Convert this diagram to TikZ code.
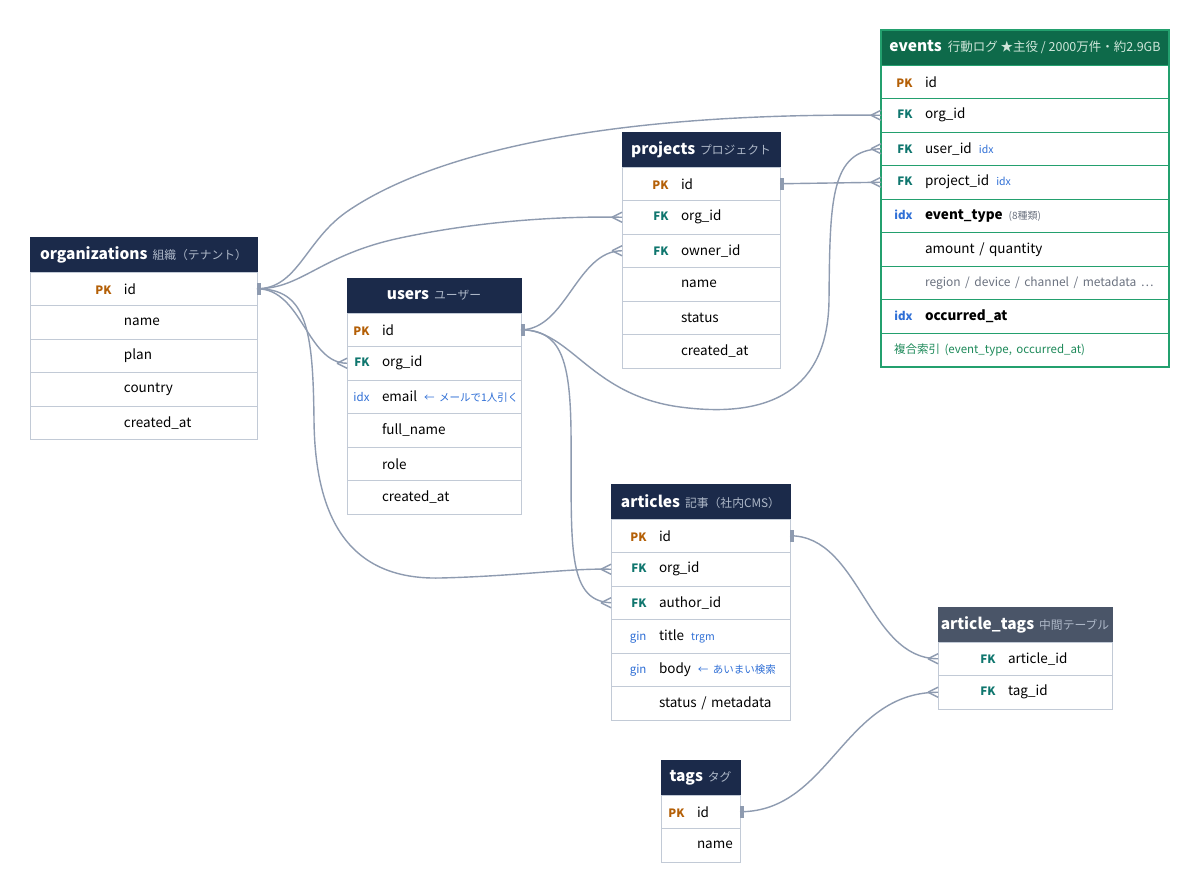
\documentclass[tikz,border=0pt]{standalone}
\usepackage{fontspec}
\setmainfont{Noto Sans CJK JP}
\usetikzlibrary{positioning}

\definecolor{navy}{HTML}{1B2A4A}
\definecolor{slate}{HTML}{4A5568}
\definecolor{evhead}{HTML}{0E6A4A}
\definecolor{evline}{HTML}{23A06E}
\definecolor{evsub}{HTML}{CFE6DA}
\definecolor{subc}{HTML}{AEB8C8}
\definecolor{rowline}{HTML}{C2CAD6}
\definecolor{relc}{HTML}{8E9BB0}
\definecolor{pkc}{HTML}{B45F06}
\definecolor{fkc}{HTML}{0F766E}
\definecolor{idxc}{HTML}{2F6FD6}
\definecolor{grayc}{HTML}{6B7280}
\definecolor{cmpc}{HTML}{1E8A5A}

\newlength{\keyw}
\newcommand{\krow}[2]{\noindent\mbox{\makebox[\keyw][r]{#1}\hspace{12.5pt}#2}}
\newcommand{\kf}[2]{\textcolor{#1}{\fontsize{11.5}{12}\selectfont\bfseries #2}}
\newcommand{\PK}{\kf{pkc}{PK}}
\newcommand{\FK}{\kf{fkc}{FK}}
\newcommand{\IDX}{\kf{idxc}{idx}}
\newcommand{\kidx}[1]{\textcolor{idxc}{\fontsize{11.5}{12}\selectfont #1}}
\newcommand{\note}[1]{\hspace{7pt}\textcolor{idxc}{\fontsize{10.5}{12}\selectfont #1}}
\newcommand{\ttl}[3][subc]{{\fontsize{15.5}{18}\selectfont\bfseries #2}\hspace{5pt}{\fontsize{11.8}{14}\selectfont\color{#1}#3}}
\newcommand{\crow}[1]{\draw[rel] ([xshift=-10pt]#1.west) -- ([yshift=5pt]#1.west) ([xshift=-10pt]#1.west) -- ([yshift=-5pt]#1.west);}
\newcommand{\one}[1]{\fill[relc] ([yshift=-6pt]#1.east) rectangle ([xshift=4pt,yshift=6pt]#1.east);}

\tikzset{
  keyw/.code={\setlength{\keyw}{#1}},
  head/.style={fill=navy, draw=navy, text=white, minimum width=#1, minimum height=35pt,
    inner sep=0pt, outer sep=0pt, anchor=north west},
  cell/.style={draw=rowline, fill=white, text width=#1, minimum height=33.5pt, align=left,
    inner sep=0pt, outer sep=0pt, font=\fontsize{13.5}{16}\selectfont},
  evcell/.style={cell=#1, draw=evline},
  rel/.style={draw=relc, line width=1.4pt},
}

\begin{document}
\begin{tikzpicture}[x=1pt, y=-1pt]
\useasboundingbox[fill=white] (0,0) rectangle (1200,894);

% events
\begin{scope}[keyw=31.5pt]
\node[head=288pt, fill=evhead, draw=evhead] (ev-h) at (881,30) {{\fontsize{15.5}{18}\selectfont\bfseries events}\hspace{6pt}{\fontsize{12.5}{14}\selectfont\color{evsub}行動ログ ★主役 / 2000万件・約2.9GB}};
\node[evcell=288pt, below=0pt of ev-h] (ev-id) {\krow{\PK}{id}};
\node[evcell=288pt, below=0pt of ev-id] (ev-org) {\krow{\FK}{org\_id}};
\node[evcell=288pt, below=0pt of ev-org] (ev-user) {\krow{\FK}{user\_id\note{idx}}};
\node[evcell=288pt, below=0pt of ev-user] (ev-proj) {\krow{\FK}{project\_id\note{idx}}};
\node[evcell=288pt, below=0pt of ev-proj] (ev-type) {\krow{\IDX}{\textbf{event\_type}\hspace{6pt}\textcolor{grayc}{\fontsize{10}{12}\selectfont (8種類)}}};
\node[evcell=288pt, below=0pt of ev-type] (ev-amt) {\krow{}{amount / quantity}};
\node[evcell=288pt, below=0pt of ev-amt] (ev-reg) {\krow{}{\textcolor{grayc}{\fontsize{12}{15}\selectfont region / device / channel / metadata …}}};
\node[evcell=288pt, below=0pt of ev-reg] (ev-occ) {\krow{\IDX}{\textbf{occurred\_at}}};
\node[evcell=288pt, below=0pt of ev-occ] (ev-cmp) {\noindent\hspace{13pt}\textcolor{cmpc}{\fontsize{11.5}{14}\selectfont 複合索引 (event\_type, occurred\_at)}};
\end{scope}
\draw[evline, line width=2pt] (ev-h.north west) rectangle (ev-cmp.south east);

% projects
\begin{scope}[keyw=46.5pt]
\node[head=158pt] (pj-h) at (622,132) {\ttl{projects}{プロジェクト}};
\node[cell=158pt, below=0pt of pj-h] (pj-id) {\krow{\PK}{id}};
\node[cell=158pt, below=0pt of pj-id] (pj-org) {\krow{\FK}{org\_id}};
\node[cell=158pt, below=0pt of pj-org] (pj-own) {\krow{\FK}{owner\_id}};
\node[cell=158pt, below=0pt of pj-own] (pj-name) {\krow{}{name}};
\node[cell=158pt, below=0pt of pj-name] (pj-stat) {\krow{}{status}};
\node[cell=158pt, below=0pt of pj-stat] (pj-cre) {\krow{}{created\_at}};
\end{scope}

% organizations
\begin{scope}[keyw=81.5pt]
\node[head=227pt] (og-h) at (30,237) {\ttl{organizations}{組織（テナント）}};
\node[cell=227pt, below=0pt of og-h] (og-id) {\krow{\PK}{id}};
\node[cell=227pt, below=0pt of og-id] (og-name) {\krow{}{name}};
\node[cell=227pt, below=0pt of og-name] (og-plan) {\krow{}{plan}};
\node[cell=227pt, below=0pt of og-plan] (og-ctry) {\krow{}{country}};
\node[cell=227pt, below=0pt of og-ctry] (og-cre) {\krow{}{created\_at}};
\end{scope}

% users
\begin{scope}[keyw=22.5pt]
\node[head=174pt] (us-h) at (347,278) {\ttl{users}{ユーザー}};
\node[cell=174pt, below=0pt of us-h] (us-id) {\krow{\PK}{id}};
\node[cell=174pt, below=0pt of us-id] (us-org) {\krow{\FK}{org\_id}};
\node[cell=174pt, below=0pt of us-org] (us-mail) {\krow{\kidx{idx}}{email\note{← メールで1人引く}}};
\node[cell=174pt, below=0pt of us-mail] (us-full) {\krow{}{full\_name}};
\node[cell=174pt, below=0pt of us-full] (us-role) {\krow{}{role}};
\node[cell=174pt, below=0pt of us-role] (us-cre) {\krow{}{created\_at}};
\end{scope}

% articles
\begin{scope}[keyw=35.5pt]
\node[head=179pt] (ar-h) at (611,484) {\ttl{articles}{記事（社内CMS）}};
\node[cell=179pt, below=0pt of ar-h] (ar-id) {\krow{\PK}{id}};
\node[cell=179pt, below=0pt of ar-id] (ar-org) {\krow{\FK}{org\_id}};
\node[cell=179pt, below=0pt of ar-org] (ar-auth) {\krow{\FK}{author\_id}};
\node[cell=179pt, below=0pt of ar-auth] (ar-title) {\krow{\kidx{gin}}{title\note{trgm}}};
\node[cell=179pt, below=0pt of ar-title] (ar-body) {\krow{\kidx{gin}}{body\note{← あいまい検索}}};
\node[cell=179pt, below=0pt of ar-body] (ar-stat) {\krow{}{status / metadata}};
\end{scope}

% article_tags
\begin{scope}[keyw=57.5pt]
\node[head=174pt, fill=slate, draw=slate] (at-h) at (938,607) {\ttl{article\_tags}{中間テーブル}};
\node[cell=174pt, below=0pt of at-h] (at-art) {\krow{\FK}{article\_id}};
\node[cell=174pt, below=0pt of at-art] (at-tag) {\krow{\FK}{tag\_id}};
\end{scope}

% tags
\begin{scope}[keyw=23.5pt]
\node[head=79pt] (tg-h) at (661,760) {\ttl{tags}{タグ}};
\node[cell=79pt, below=0pt of tg-h] (tg-id) {\krow{\PK}{id}};
\node[cell=79pt, below=0pt of tg-id] (tg-name) {\krow{}{name}};
\end{scope}

% relations
\draw[rel] (og-id.east) .. controls +(40,0) and (305,242) .. (345,213) .. controls (410,167) and (560,112) .. (ev-org.west);
\draw[rel] (og-id.east) .. controls +(45,0) and (320,255) .. (400,238) .. controls (480,221) and (560,216) .. (pj-org.west);
\draw[rel] (og-id.east) .. controls +(45,0) and +(-40,0) .. (us-org.west);
\draw[rel] (og-id.east) .. controls +(50,0) and (313,330) .. (314,420) .. controls (315,520) and (350,580) .. (440,578) .. controls (520,576) and (570,568) .. (ar-org.west);
\draw[rel] (us-id.east) .. controls +(45,0) and +(-45,0) .. (pj-own.west);
\draw[rel] (us-id.east) .. controls +(40,0) and (570,360) .. (571,430) .. controls (572,540) and (565,601) .. (ar-auth.west);
\draw[rel] (us-id.east) .. controls +(50,0) and (590,395) .. (680,407) .. controls (770,419) and (828,390) .. (829,300) .. controls (830,200) and (830,150) .. (ev-user.west);
\draw[rel] (pj-id.east) -- (ev-proj.west);
\draw[rel] (ar-id.east) .. controls +(70,0) and +(-70,0) .. (at-art.west);
\draw[rel] (tg-id.east) .. controls +(90,0) and +(-95,0) .. (at-tag.west);

\crow{ev-org} \crow{ev-user} \crow{ev-proj} \crow{pj-org} \crow{pj-own}
\crow{us-org} \crow{ar-org} \crow{ar-auth} \crow{at-art} \crow{at-tag}
\one{og-id} \one{us-id} \one{pj-id} \one{ar-id} \one{tg-id}
\end{tikzpicture}
\end{document}
